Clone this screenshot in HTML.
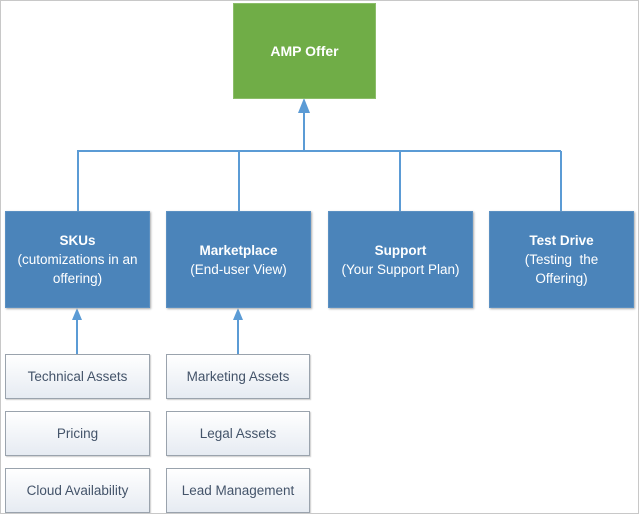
<!DOCTYPE html>
<html><head><style>
body{margin:0;width:639px;height:514px;overflow:hidden;background:#fff;font-family:"Liberation Sans",sans-serif;}
.f{position:absolute;left:0;top:0;width:637px;height:512px;border:1px solid #c8c8c8;}
.b{position:absolute;display:flex;align-items:center;justify-content:center;text-align:center;box-sizing:border-box;}
.g{background:#70ad47;color:#fff;font-weight:bold;font-size:14px;border:1px solid #8cbd6a;}
.u{background:#4b84ba;color:#fff;font-size:13.5px;line-height:19px;border:1px solid #5b90c2;box-shadow:1px 1px 2px #aaa;}
.s{background:linear-gradient(#ffffff,#e6ebf2);color:#44546a;font-size:13.5px;border:1px solid #9aa3ad;box-shadow:1px 1px 1px #ccc;}
</style></head><body>
<div class="f"></div>
<svg width="639" height="514" style="position:absolute;left:0;top:0">
<g stroke="#5b9bd5" stroke-width="2" fill="none">
<line x1="304" y1="151" x2="304" y2="110"/>
<line x1="77" y1="151" x2="561" y2="151"/>
<line x1="78" y1="151" x2="78" y2="211"/>
<line x1="239" y1="151" x2="239" y2="211"/>
<line x1="400" y1="151" x2="400" y2="211"/>
<line x1="561" y1="151" x2="561" y2="211"/>
<line x1="77" y1="354" x2="77" y2="318"/>
<line x1="238" y1="354" x2="238" y2="318"/>
</g>
<g fill="#5b9bd5">
<polygon points="304,98 298,113 310,113"/>
<polygon points="77,308 72,320 82,320"/>
<polygon points="238,308 233,320 243,320"/>
</g>
</svg>
<div class="b g" style="left:233px;top:3px;width:143px;height:96px">AMP Offer</div>
<div class="b u" style="left:5px;top:211px;width:145px;height:97px"><div><b>SKUs</b><br>(cutomizations in an<br>offering)</div></div>
<div class="b u" style="left:166px;top:211px;width:145px;height:97px"><div><b>Marketplace</b><br>(End-user View)</div></div>
<div class="b u" style="left:328px;top:211px;width:145px;height:97px"><div><b>Support</b><br>(Your Support Plan)</div></div>
<div class="b u" style="left:489px;top:211px;width:145px;height:97px"><div><b>Test Drive</b><br>(Testing&nbsp; the<br>Offering)</div></div>
<div class="b s" style="left:5px;top:354px;width:145px;height:45px">Technical Assets</div>
<div class="b s" style="left:5px;top:411px;width:145px;height:45px">Pricing</div>
<div class="b s" style="left:5px;top:468px;width:145px;height:45px">Cloud Availability</div>
<div class="b s" style="left:166px;top:354px;width:144px;height:45px">Marketing Assets</div>
<div class="b s" style="left:166px;top:411px;width:144px;height:45px">Legal Assets</div>
<div class="b s" style="left:166px;top:468px;width:144px;height:45px">Lead Management</div>
</body></html>
